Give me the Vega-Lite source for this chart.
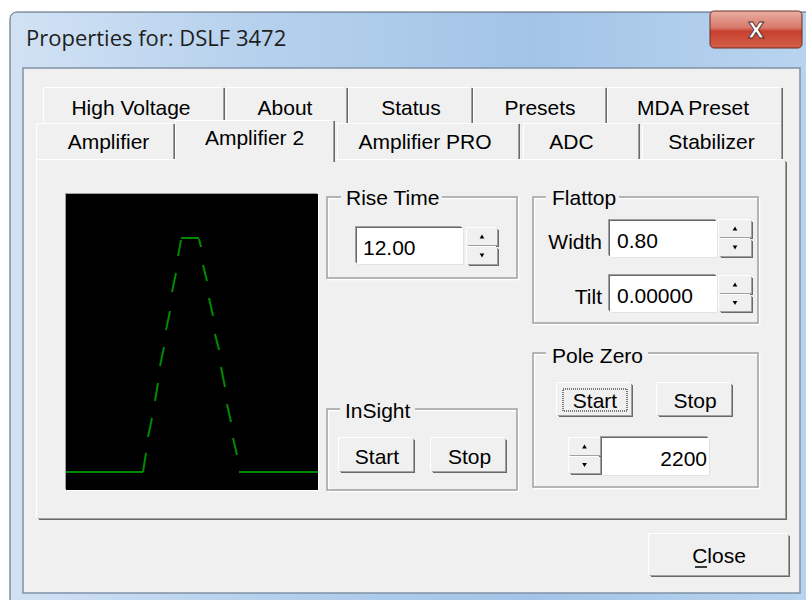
{
  "$schema": "https://vega.github.io/schema/vega-lite/v6.json",
  "width": 806,
  "height": 600,
  "autosize": "none",
  "padding": 0,
  "background": "#ffffff",
  "config": {"view": {"stroke": null}},
  "datasets": {
    "boxes": [
      {"part": "window", "x": 10, "x2": 812, "y": 12, "y2": 606},
      {"part": "client", "x": 23, "x2": 800, "y": 68, "y2": 593},
      {"part": "closebtn", "x": 710, "x2": 802, "y": 11, "y2": 48},
      {"part": "tab1", "x": 44, "x2": 223, "y": 88, "y2": 124},
      {"part": "tab1", "x": 227, "x2": 346, "y": 88, "y2": 124},
      {"part": "tab1", "x": 349, "x2": 471, "y": 88, "y2": 124},
      {"part": "tab1", "x": 474, "x2": 605, "y": 88, "y2": 124},
      {"part": "tab1", "x": 608, "x2": 781, "y": 88, "y2": 124},
      {"part": "tab2", "x": 37, "x2": 173, "y": 124, "y2": 160},
      {"part": "tab2", "x": 338, "x2": 518, "y": 124, "y2": 160},
      {"part": "tab2", "x": 524, "x2": 638, "y": 124, "y2": 160},
      {"part": "tab2", "x": 643, "x2": 781, "y": 124, "y2": 160},
      {"part": "panel", "x": 37, "x2": 785, "y": 160, "y2": 518},
      {"part": "tabsel", "x": 176, "x2": 333, "y": 121, "y2": 162},
      {"part": "button", "x": 339, "x2": 413, "y": 438, "y2": 471},
      {"part": "button", "x": 431, "x2": 505, "y": 438, "y2": 471},
      {"part": "button", "x": 557, "x2": 631, "y": 383, "y2": 415},
      {"part": "button", "x": 657, "x2": 731, "y": 383, "y2": 415},
      {"part": "button", "x": 649, "x2": 788, "y": 534, "y2": 575},
      {"part": "spin", "x": 467, "x2": 497, "y": 228, "y2": 245},
      {"part": "spin", "x": 467, "x2": 497, "y": 247, "y2": 264},
      {"part": "spin", "x": 719, "x2": 751, "y": 220, "y2": 237},
      {"part": "spin", "x": 719, "x2": 751, "y": 239, "y2": 256},
      {"part": "spin", "x": 719, "x2": 751, "y": 276, "y2": 293},
      {"part": "spin", "x": 719, "x2": 751, "y": 295, "y2": 311},
      {"part": "spin", "x": 569, "x2": 600, "y": 438, "y2": 455},
      {"part": "spin", "x": 569, "x2": 600, "y": 457, "y2": 473},
      {"part": "edit", "x": 357, "x2": 463, "y": 228, "y2": 264},
      {"part": "edit", "x": 610, "x2": 717, "y": 221, "y2": 257},
      {"part": "edit", "x": 610, "x2": 717, "y": 276, "y2": 312},
      {"part": "edit", "x": 602, "x2": 709, "y": 438, "y2": 475},
      {"part": "plot", "x": 66, "x2": 318, "y": 194, "y2": 490},
      {"part": "group", "x": 327, "x2": 517, "y": 197, "y2": 278},
      {"part": "group", "x": 533, "x2": 758, "y": 197, "y2": 323},
      {"part": "group", "x": 533, "x2": 758, "y": 353, "y2": 487},
      {"part": "group", "x": 327, "x2": 517, "y": 409, "y2": 490},
      {"part": "gap", "x": 341, "x2": 442, "y": 190, "y2": 204},
      {"part": "gap", "x": 546, "x2": 619, "y": 190, "y2": 204},
      {"part": "gap", "x": 546, "x2": 648, "y": 346, "y2": 360},
      {"part": "gap", "x": 340, "x2": 415, "y": 402, "y2": 416},
      {"part": "focus", "x": 563, "x2": 627, "y": 389, "y2": 411}
    ],
    "strokes": [
      {"kind": "pulse", "x": 66, "y": 472, "x2": 143, "y2": 472},
      {"kind": "pulse", "x": 143, "y": 472, "x2": 146, "y2": 453},
      {"kind": "pulse", "x": 148, "y": 437, "x2": 152, "y2": 418},
      {"kind": "pulse", "x": 155, "y": 401, "x2": 158, "y2": 383},
      {"kind": "pulse", "x": 160, "y": 366, "x2": 164, "y2": 347},
      {"kind": "pulse", "x": 166, "y": 330, "x2": 170, "y2": 311},
      {"kind": "pulse", "x": 172, "y": 292, "x2": 176, "y2": 273},
      {"kind": "pulse", "x": 178, "y": 256, "x2": 181, "y2": 240},
      {"kind": "pulse", "x": 181, "y": 238, "x2": 199, "y2": 238},
      {"kind": "pulse", "x": 199, "y": 239, "x2": 201, "y2": 247},
      {"kind": "pulse", "x": 203, "y": 265, "x2": 207, "y2": 281},
      {"kind": "pulse", "x": 209, "y": 298, "x2": 213, "y2": 316},
      {"kind": "pulse", "x": 215, "y": 334, "x2": 219, "y2": 350},
      {"kind": "pulse", "x": 221, "y": 367, "x2": 225, "y2": 387},
      {"kind": "pulse", "x": 227, "y": 404, "x2": 231, "y2": 422},
      {"kind": "pulse", "x": 233, "y": 438, "x2": 237, "y2": 455},
      {"kind": "pulse", "x": 239, "y": 472, "x2": 318, "y2": 472},
      {"kind": "underline", "x": 695, "y": 567, "x2": 707, "y2": 567}
    ],
    "arrows": [
      {"x": 482, "y": 236.5, "dir": "up"},
      {"x": 482, "y": 255.5, "dir": "down"},
      {"x": 735, "y": 228.5, "dir": "up"},
      {"x": 735, "y": 247.5, "dir": "down"},
      {"x": 735, "y": 284.5, "dir": "up"},
      {"x": 735, "y": 303, "dir": "down"},
      {"x": 584.5, "y": 446.5, "dir": "up"},
      {"x": 584.5, "y": 465, "dir": "down"}
    ],
    "texts": [
      {"role": "title", "x": 26, "y": 46, "label": "Properties for: DSLF 3472"},
      {"role": "close", "x": 756, "y": 38, "label": "X"},
      {"role": "center", "x": 131, "y": 115, "label": "High Voltage"},
      {"role": "center", "x": 285, "y": 115, "label": "About"},
      {"role": "center", "x": 411, "y": 115, "label": "Status"},
      {"role": "center", "x": 540, "y": 115, "label": "Presets"},
      {"role": "center", "x": 693, "y": 115, "label": "MDA Preset"},
      {"role": "center", "x": 108.5, "y": 149, "label": "Amplifier"},
      {"role": "center", "x": 254.5, "y": 145, "label": "Amplifier 2"},
      {"role": "center", "x": 425, "y": 149, "label": "Amplifier PRO"},
      {"role": "center", "x": 571.5, "y": 149, "label": "ADC"},
      {"role": "center", "x": 711.5, "y": 149, "label": "Stabilizer"},
      {"role": "center", "x": 377, "y": 464, "label": "Start"},
      {"role": "center", "x": 469.5, "y": 464, "label": "Stop"},
      {"role": "center", "x": 595, "y": 408, "label": "Start"},
      {"role": "center", "x": 695, "y": 408, "label": "Stop"},
      {"role": "center", "x": 719, "y": 563, "label": "Close"},
      {"role": "left", "x": 346, "y": 205, "label": "Rise Time"},
      {"role": "left", "x": 552, "y": 205, "label": "Flattop"},
      {"role": "left", "x": 552, "y": 363, "label": "Pole Zero"},
      {"role": "left", "x": 345, "y": 418, "label": "InSight"},
      {"role": "left", "x": 363, "y": 255, "label": "12.00"},
      {"role": "left", "x": 617, "y": 248, "label": "0.80"},
      {"role": "left", "x": 617, "y": 303, "label": "0.00000"},
      {"role": "right", "x": 602, "y": 249, "label": "Width"},
      {"role": "right", "x": 602, "y": 304, "label": "Tilt"},
      {"role": "right", "x": 707, "y": 466, "label": "2200"}
    ]
  },
  "encoding": {
    "x": {"field": "x", "type": "quantitative", "scale": {"domain": [0, 806], "nice": false, "zero": false}, "axis": null},
    "y": {"field": "y", "type": "quantitative", "scale": {"domain": [0, 600], "nice": false, "zero": false, "reverse": true}, "axis": null}
  },
  "layer": [
    {"data": {"name": "boxes"}, "transform": [{"filter": {"field": "part", "equal": "window"}}],
     "mark": {"type": "rect", "cornerRadius": 7, "stroke": "#4f5f72", "strokeWidth": 1,
       "fill": {"gradient": "linear", "x1": 0, "y1": 0, "x2": 1, "y2": 0,
         "stops": [{"offset": 0, "color": "#d2e2f4"}, {"offset": 0.3, "color": "#b6d1ed"}, {"offset": 0.65, "color": "#a3c4e7"}, {"offset": 1, "color": "#b9d4ef"}]}},
     "encoding": {"x2": {"field": "x2"}, "y2": {"field": "y2"}}},
    {"data": {"name": "boxes"}, "transform": [{"filter": {"field": "part", "equal": "client"}}],
     "mark": {"type": "rect", "fill": "#f0f0f0", "stroke": "#7f91a7", "strokeWidth": 1.5},
     "encoding": {"x2": {"field": "x2"}, "y2": {"field": "y2"}}},
    {"data": {"name": "boxes"}, "transform": [{"filter": {"field": "part", "equal": "closebtn"}}],
     "mark": {"type": "rect", "cornerRadius": 4, "stroke": "#6b2c22", "strokeWidth": 1,
       "fill": {"gradient": "linear", "x1": 0, "y1": 0, "x2": 0, "y2": 1,
         "stops": [{"offset": 0, "color": "#e8b0a4"}, {"offset": 0.45, "color": "#d8786a"}, {"offset": 0.55, "color": "#c8402e"}, {"offset": 1, "color": "#d2604a"}]}},
     "encoding": {"x2": {"field": "x2"}, "y2": {"field": "y2"}}},

    {"data": {"name": "boxes"}, "transform": [{"filter": {"field": "part", "equal": "tab1"}}],
     "mark": {"type": "rect", "fill": "#696969", "xOffset": 2, "x2Offset": 2},
     "encoding": {"x2": {"field": "x2"}, "y2": {"field": "y2"}}},
    {"data": {"name": "boxes"}, "transform": [{"filter": {"field": "part", "equal": "tab1"}}],
     "mark": {"type": "rect", "fill": "#a0a0a0", "xOffset": 1, "x2Offset": 1},
     "encoding": {"x2": {"field": "x2"}, "y2": {"field": "y2"}}},
    {"data": {"name": "boxes"}, "transform": [{"filter": {"field": "part", "equal": "tab1"}}],
     "mark": {"type": "rect", "fill": "#ffffff", "xOffset": -1, "x2Offset": -1, "yOffset": -1, "y2Offset": -1},
     "encoding": {"x2": {"field": "x2"}, "y2": {"field": "y2"}}},
    {"data": {"name": "boxes"}, "transform": [{"filter": {"field": "part", "equal": "tab1"}}],
     "mark": {"type": "rect", "fill": "#f0f0f0"},
     "encoding": {"x2": {"field": "x2"}, "y2": {"field": "y2"}}},

    {"data": {"name": "boxes"}, "transform": [{"filter": {"field": "part", "equal": "tab2"}}],
     "mark": {"type": "rect", "fill": "#696969", "xOffset": 2, "x2Offset": 2},
     "encoding": {"x2": {"field": "x2"}, "y2": {"field": "y2"}}},
    {"data": {"name": "boxes"}, "transform": [{"filter": {"field": "part", "equal": "tab2"}}],
     "mark": {"type": "rect", "fill": "#a0a0a0", "xOffset": 1, "x2Offset": 1},
     "encoding": {"x2": {"field": "x2"}, "y2": {"field": "y2"}}},
    {"data": {"name": "boxes"}, "transform": [{"filter": {"field": "part", "equal": "tab2"}}],
     "mark": {"type": "rect", "fill": "#ffffff", "xOffset": -1, "x2Offset": -1, "yOffset": -1, "y2Offset": -1},
     "encoding": {"x2": {"field": "x2"}, "y2": {"field": "y2"}}},
    {"data": {"name": "boxes"}, "transform": [{"filter": {"field": "part", "equal": "tab2"}}],
     "mark": {"type": "rect", "fill": "#f0f0f0"},
     "encoding": {"x2": {"field": "x2"}, "y2": {"field": "y2"}}},

    {"data": {"name": "boxes"}, "transform": [{"filter": {"field": "part", "equal": "panel"}}],
     "mark": {"type": "rect", "fill": "#696969", "xOffset": 2, "x2Offset": 2, "yOffset": 2, "y2Offset": 2},
     "encoding": {"x2": {"field": "x2"}, "y2": {"field": "y2"}}},
    {"data": {"name": "boxes"}, "transform": [{"filter": {"field": "part", "equal": "panel"}}],
     "mark": {"type": "rect", "fill": "#a0a0a0", "xOffset": 1, "x2Offset": 1, "yOffset": 1, "y2Offset": 1},
     "encoding": {"x2": {"field": "x2"}, "y2": {"field": "y2"}}},
    {"data": {"name": "boxes"}, "transform": [{"filter": {"field": "part", "equal": "panel"}}],
     "mark": {"type": "rect", "fill": "#ffffff", "xOffset": -1, "x2Offset": -1, "yOffset": -1, "y2Offset": -1},
     "encoding": {"x2": {"field": "x2"}, "y2": {"field": "y2"}}},
    {"data": {"name": "boxes"}, "transform": [{"filter": {"field": "part", "equal": "panel"}}],
     "mark": {"type": "rect", "fill": "#f0f0f0"},
     "encoding": {"x2": {"field": "x2"}, "y2": {"field": "y2"}}},

    {"data": {"name": "boxes"}, "transform": [{"filter": {"field": "part", "equal": "tabsel"}}],
     "mark": {"type": "rect", "fill": "#696969", "xOffset": 2, "x2Offset": 2},
     "encoding": {"x2": {"field": "x2"}, "y2": {"field": "y2"}}},
    {"data": {"name": "boxes"}, "transform": [{"filter": {"field": "part", "equal": "tabsel"}}],
     "mark": {"type": "rect", "fill": "#a0a0a0", "xOffset": 1, "x2Offset": 1},
     "encoding": {"x2": {"field": "x2"}, "y2": {"field": "y2"}}},
    {"data": {"name": "boxes"}, "transform": [{"filter": {"field": "part", "equal": "tabsel"}}],
     "mark": {"type": "rect", "fill": "#ffffff", "xOffset": -1, "x2Offset": -1, "yOffset": -1, "y2Offset": -1},
     "encoding": {"x2": {"field": "x2"}, "y2": {"field": "y2"}}},
    {"data": {"name": "boxes"}, "transform": [{"filter": {"field": "part", "equal": "tabsel"}}],
     "mark": {"type": "rect", "fill": "#f0f0f0"},
     "encoding": {"x2": {"field": "x2"}, "y2": {"field": "y2"}}},

    {"data": {"name": "boxes"}, "transform": [{"filter": {"field": "part", "equal": "plot"}}],
     "mark": {"type": "rect", "fill": "#ffffff", "xOffset": 1, "x2Offset": 1, "yOffset": 1, "y2Offset": 1},
     "encoding": {"x2": {"field": "x2"}, "y2": {"field": "y2"}}},
    {"data": {"name": "boxes"}, "transform": [{"filter": {"field": "part", "equal": "plot"}}],
     "mark": {"type": "rect", "fill": "#a0a0a0", "xOffset": -1, "x2Offset": -1, "yOffset": -1, "y2Offset": -1},
     "encoding": {"x2": {"field": "x2"}, "y2": {"field": "y2"}}},
    {"data": {"name": "boxes"}, "transform": [{"filter": {"field": "part", "equal": "plot"}}],
     "mark": {"type": "rect", "fill": "#000000"},
     "encoding": {"x2": {"field": "x2"}, "y2": {"field": "y2"}}},

    {"data": {"name": "boxes"}, "transform": [{"filter": {"field": "part", "equal": "group"}}],
     "mark": {"type": "rect", "filled": false, "stroke": "#ffffff", "strokeWidth": 1.5, "xOffset": 1.5, "x2Offset": 1.5, "yOffset": 1.5, "y2Offset": 1.5},
     "encoding": {"x2": {"field": "x2"}, "y2": {"field": "y2"}}},
    {"data": {"name": "boxes"}, "transform": [{"filter": {"field": "part", "equal": "group"}}],
     "mark": {"type": "rect", "filled": false, "stroke": "#a0a0a0", "strokeWidth": 1.5},
     "encoding": {"x2": {"field": "x2"}, "y2": {"field": "y2"}}},
    {"data": {"name": "boxes"}, "transform": [{"filter": {"field": "part", "equal": "gap"}}],
     "mark": {"type": "rect", "fill": "#f0f0f0"},
     "encoding": {"x2": {"field": "x2"}, "y2": {"field": "y2"}}},

    {"data": {"name": "boxes"}, "transform": [{"filter": {"field": "part", "equal": "edit"}}],
     "mark": {"type": "rect", "fill": "#e3e3e3", "xOffset": 1, "x2Offset": 1, "yOffset": 1, "y2Offset": 1},
     "encoding": {"x2": {"field": "x2"}, "y2": {"field": "y2"}}},
    {"data": {"name": "boxes"}, "transform": [{"filter": {"field": "part", "equal": "edit"}}],
     "mark": {"type": "rect", "fill": "#a0a0a0", "xOffset": -2, "x2Offset": -2, "yOffset": -2, "y2Offset": -2},
     "encoding": {"x2": {"field": "x2"}, "y2": {"field": "y2"}}},
    {"data": {"name": "boxes"}, "transform": [{"filter": {"field": "part", "equal": "edit"}}],
     "mark": {"type": "rect", "fill": "#696969", "xOffset": -1, "x2Offset": -1, "yOffset": -1, "y2Offset": -1},
     "encoding": {"x2": {"field": "x2"}, "y2": {"field": "y2"}}},
    {"data": {"name": "boxes"}, "transform": [{"filter": {"field": "part", "equal": "edit"}}],
     "mark": {"type": "rect", "fill": "#ffffff"},
     "encoding": {"x2": {"field": "x2"}, "y2": {"field": "y2"}}},

    {"data": {"name": "boxes"}, "transform": [{"filter": {"field": "part", "oneOf": ["button", "spin"]}}],
     "mark": {"type": "rect", "fill": "#696969", "xOffset": 2, "x2Offset": 2, "yOffset": 2, "y2Offset": 2},
     "encoding": {"x2": {"field": "x2"}, "y2": {"field": "y2"}}},
    {"data": {"name": "boxes"}, "transform": [{"filter": {"field": "part", "oneOf": ["button", "spin"]}}],
     "mark": {"type": "rect", "fill": "#a0a0a0", "xOffset": 1, "x2Offset": 1, "yOffset": 1, "y2Offset": 1},
     "encoding": {"x2": {"field": "x2"}, "y2": {"field": "y2"}}},
    {"data": {"name": "boxes"}, "transform": [{"filter": {"field": "part", "oneOf": ["button", "spin"]}}],
     "mark": {"type": "rect", "fill": "#ffffff", "xOffset": -1, "x2Offset": -1, "yOffset": -1, "y2Offset": -1},
     "encoding": {"x2": {"field": "x2"}, "y2": {"field": "y2"}}},
    {"data": {"name": "boxes"}, "transform": [{"filter": {"field": "part", "oneOf": ["button", "spin"]}}],
     "mark": {"type": "rect", "fill": "#f0f0f0"},
     "encoding": {"x2": {"field": "x2"}, "y2": {"field": "y2"}}},
    {"data": {"name": "boxes"}, "transform": [{"filter": {"field": "part", "equal": "focus"}}],
     "mark": {"type": "rect", "filled": false, "stroke": "#000000", "strokeWidth": 1, "strokeDash": [1, 1]},
     "encoding": {"x2": {"field": "x2"}, "y2": {"field": "y2"}}},

    {"data": {"name": "strokes"}, "transform": [{"filter": {"field": "kind", "equal": "pulse"}}],
     "mark": {"type": "rule", "color": "#008a00", "strokeWidth": 2},
     "encoding": {"x2": {"field": "x2"}, "y2": {"field": "y2"}}},
    {"data": {"name": "strokes"}, "transform": [{"filter": {"field": "kind", "equal": "underline"}}],
     "mark": {"type": "rule", "color": "#000000", "strokeWidth": 1.5},
     "encoding": {"x2": {"field": "x2"}, "y2": {"field": "y2"}}},

    {"data": {"name": "arrows"},
     "mark": {"type": "point", "filled": true, "fill": "#000000", "opacity": 1, "size": 22},
     "encoding": {"shape": {"field": "dir", "type": "nominal", "scale": {"domain": ["up", "down"], "range": ["triangle-up", "triangle-down"]}, "legend": null}}},

    {"data": {"name": "texts"}, "transform": [{"filter": {"field": "role", "equal": "title"}}],
     "mark": {"type": "text", "align": "left", "baseline": "alphabetic", "font": "Open Sans", "fontSize": 22, "fill": "#1e1e1e"},
     "encoding": {"text": {"field": "label"}}},
    {"data": {"name": "texts"}, "transform": [{"filter": {"field": "role", "equal": "close"}}],
     "mark": {"type": "text", "align": "center", "baseline": "alphabetic", "font": "DejaVu Sans", "fontWeight": "bold", "fontSize": 21, "fill": "#ffffff", "stroke": "#5a3030", "strokeWidth": 1},
     "encoding": {"text": {"field": "label"}}},
    {"data": {"name": "texts"}, "transform": [{"filter": {"field": "role", "equal": "center"}}],
     "mark": {"type": "text", "align": "center", "baseline": "alphabetic", "font": "Liberation Sans", "fontSize": 21, "fill": "#000000"},
     "encoding": {"text": {"field": "label"}}},
    {"data": {"name": "texts"}, "transform": [{"filter": {"field": "role", "equal": "left"}}],
     "mark": {"type": "text", "align": "left", "baseline": "alphabetic", "font": "Liberation Sans", "fontSize": 21, "fill": "#000000"},
     "encoding": {"text": {"field": "label"}}},
    {"data": {"name": "texts"}, "transform": [{"filter": {"field": "role", "equal": "right"}}],
     "mark": {"type": "text", "align": "right", "baseline": "alphabetic", "font": "Liberation Sans", "fontSize": 21, "fill": "#000000"},
     "encoding": {"text": {"field": "label"}}}
  ]
}
